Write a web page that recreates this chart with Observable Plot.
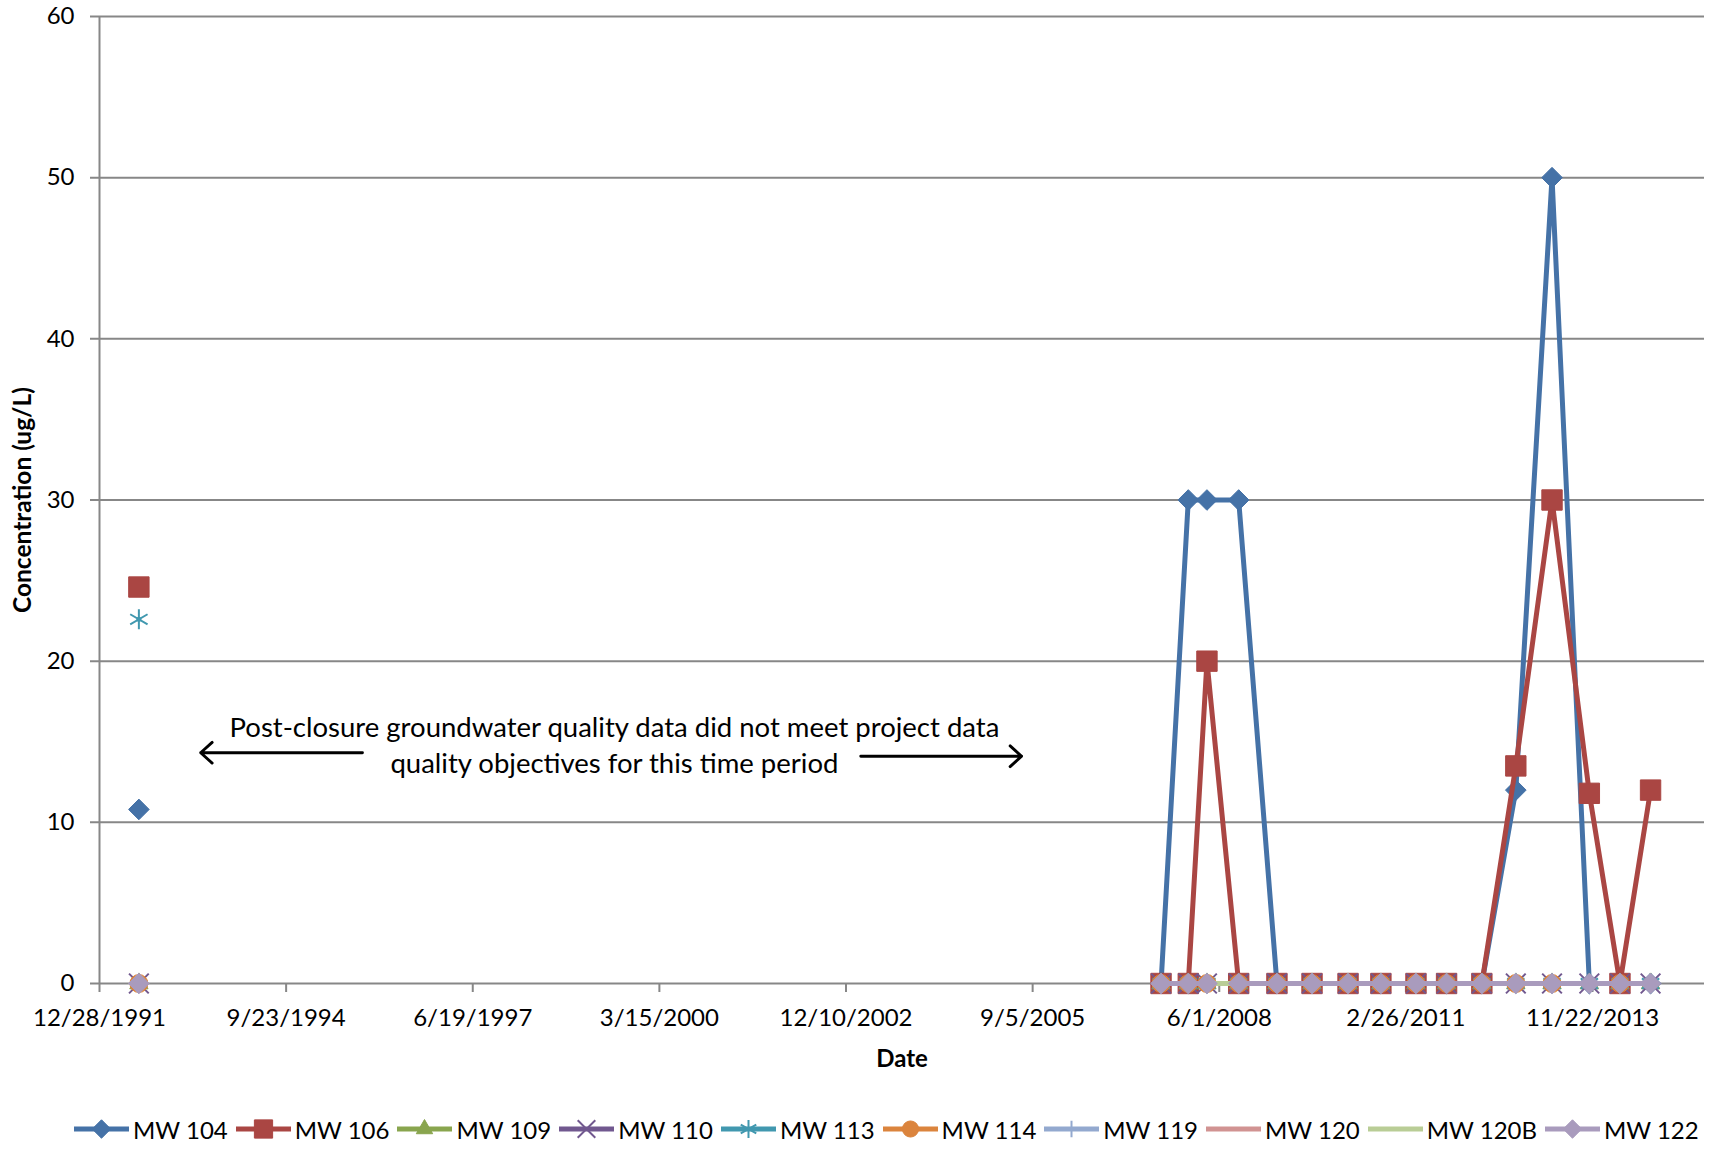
<!DOCTYPE html>
<html><head><meta charset="utf-8">
<script src="https://cdn.jsdelivr.net/npm/d3@7"></script>
<script src="https://cdn.jsdelivr.net/npm/@observablehq/plot@0.6"></script>
<style>
body{margin:0;background:#fff;font-family:Lato,sans-serif;}
#wrap{position:relative;width:1718px;height:1149px;overflow:hidden}
#legend{position:absolute;left:74px;top:1113px;height:32px;display:flex;align-items:center;font-size:24px;color:#000;white-space:nowrap;font-family:Lato,sans-serif}
.item{display:flex;align-items:center;margin-right:8px}
.item svg{margin-right:4px;display:block}
</style></head><body><div id="wrap"><div id="chart"></div><div id="legend"></div></div>
<script>
// ---- data ----
const sampleDates = ["1992-07-26","2007-07-25","2007-12-18","2008-03-27","2008-09-13","2009-04-06","2009-10-11","2010-04-22","2010-10-15","2011-04-21","2011-10-02","2012-04-08","2012-10-07","2013-04-19","2013-11-05","2014-04-18","2014-09-29"];
const seriesNames = ["MW 104","MW 106","MW 109","MW 110","MW 113","MW 114","MW 119","MW 120","MW 120B","MW 122"];
const mw104  = [10.8, 0, 30, 30, 30, 0, 0, 0, 0, 0, 0, 0, 12, 50, 0, 0, 0];
const mw106  = [24.6, 0, 0, 20, 0, 0, 0, 0, 0, 0, 0, 0, 13.5, 30, 11.8, 0, 12];
const mw109  = [0, 0, 0, 0, 0, 0, 0, 0, 0, 0, 0, 0, 0, 0, 0, 0, 0];
const mw110  = [0, 0, 0, 0, 0, 0, 0, 0, 0, 0, 0, 0, 0, 0, 0, 0, 0];
const mw113  = [22.6, 0, 0, 0, 0, 0, 0, 0, 0, 0, 0, 0, 0, 0, 0, 0, 0];
const mw114  = [0, 0, 0, 0, 0, 0, 0, 0, 0, 0, 0, 0, 0, 0, null, 0, null];
const mw119  = [null, 0, 0, 0, 0, 0, 0, 0, 0, 0, 0, 0, 0, 0, 0, 0, 0];
const mw120  = [null, 0, 0, 0, 0, 0, 0, 0, 0, 0, 0, 0, 0, 0, 0, 0, 0];
const mw120B = [null, 0, 0, 0, 0, 0, 0, 0, 0, 0, 0, 0, 0, 0, 0, 0, 0];
const mw122  = [0, 0, 0, 0, 0, 0, 0, 0, 0, 0, 0, 0, 0, 0, 0, 0, 0];
const seriesValues = [mw104, mw106, mw109, mw110, mw113, mw114, mw119, mw120, mw120B, mw122];
// sample index after which a series' line is not drawn (no reading between samples)
const lineGapAfter = {"MW 119": [3], "MW 120": [3], "MW 122": [3]};
const yTicks = [0, 10, 20, 30, 40, 50, 60];
const xTickLabels = ["12/28/1991","9/23/1994","6/19/1997","3/15/2000","12/10/2002","9/5/2005","6/1/2008","2/26/2011","11/22/2013"];
const xDomainLabels = ["12/28/1991","7/15/2015"];
const noteLines = ["Post-closure groundwater quality data did not meet project data","quality objectives for this time period"];
const notePosition = {date: "1999-07-18", value: 14.9};
const noteArrows = [
  {from: "1995-11-06", to: "1993-06-22", value: 14.32},
  {from: "2003-02-27", to: "2005-07-08", value: 14.1}
];

// ---- styles ----
const colors = ["#4572A7","#AA4643","#89A54E","#71588F","#4198AF","#DB843D","#93A9CF","#D19392","#B9CD96","#A99BBD"];
const markers = [
  {symbol:"diamond2", r:9.3, filled:true},
  {symbol:"square", r:11.5, filled:true},
  {symbol:"triangle", r:6.8, filled:true},
  {symbol:"times", r:9, filled:false},
  {symbol:"asterisk", r:9.5, filled:false},
  {symbol:"circle", r:9, filled:true},
  {symbol:"plus", r:6, filled:false},
  null, null,
  {symbol:"diamond2", r:9.3, filled:true}
];
const grid = "#878787";
const FONT = "Lato, sans-serif";

const parseISO = d3.utcParse("%Y-%m-%d");
const parseMDY = d3.utcParse("%m/%d/%Y");
const fmtMDY = d => `${d.getUTCMonth()+1}/${d.getUTCDate()}/${d.getUTCFullYear()}`;
const xTicks = xTickLabels.map(parseMDY);
const xDomain = xDomainLabels.map(parseMDY);

const marks = [];
marks.push(Plot.ruleY(yTicks, {stroke: grid, strokeWidth: 2, insetLeft: -9}));
marks.push(Plot.ruleX([xDomain[0]], {stroke: grid, strokeWidth: 2}));
marks.push(Plot.axisX(xTicks, {tickSize: 9, tickPadding: 16, stroke: grid, strokeWidth: 2, fill: "#000", tickFormat: fmtMDY, fontSize: 24, label: null}));
marks.push(Plot.axisY(yTicks, {tickSize: 0, tickPadding: 25, fill: "#000", fontSize: 24, label: null}));
marks.push(Plot.text(["Date"], {text: d => d, frameAnchor: "bottom", dy: 83, fontWeight: "bold", fontSize: 24, fill: "#000"}));
marks.push(Plot.text(["Concentration (ug/L)"], {text: d => d, frameAnchor: "left", textAnchor: "middle", dx: -76, rotate: -90, fontWeight: "bold", fontSize: 24.5, fill: "#000"}));

// annotation
marks.push(Plot.text([notePosition], {x: d => parseISO(d.date), y: "value", text: () => noteLines.join("\n"), lineHeight: 1.3, fontSize: 27.5, fill: "#000"}));
marks.push(Plot.arrow(noteArrows, {x1: d => parseISO(d.from), x2: d => parseISO(d.to), y1: "value", y2: "value", stroke: "#000", strokeWidth: 2.9, headLength: 8, headAngle: 84}));

seriesNames.forEach((name, i) => {
  const gaps = lineGapAfter[name] || [];
  const rows = sampleDates.map((ds, j) => {
    const date = parseISO(ds);
    let seg = date.getUTCFullYear() < 2000 ? 0 : 1;
    gaps.forEach(g => { if (j > g) seg += 10; });
    return {date, value: seriesValues[i][j], seg};
  });
  marks.push(Plot.line(rows, {x: "date", y: "value", z: "seg", stroke: colors[i], strokeWidth: 5, strokeLinejoin: "round"}));
  const m = markers[i];
  if (m) {
    const pts = rows.filter(d => d.value != null);
    marks.push(Plot.dot(pts, {x: "date", y: "value", symbol: m.symbol, r: m.r,
      fill: m.filled ? colors[i] : "none", stroke: colors[i], strokeWidth: m.filled ? 1 : 2}));
  }
});

const chart = Plot.plot({
  width: 1718, height: 1080,
  marginLeft: 99, marginRight: 14, marginTop: 16, marginBottom: 97,
  x: {type: "utc", domain: xDomain, axis: null},
  y: {domain: [0, 60], axis: null},
  style: {fontFamily: FONT, fontSize: "24px", background: "#fff", color: "#000"},
  marks
});
document.getElementById("chart").appendChild(chart);

// legend
const symTypes = {diamond2: d3.symbolDiamond2, square: d3.symbolSquare, triangle: d3.symbolTriangle, times: d3.symbolTimes, asterisk: d3.symbolAsterisk, circle: d3.symbolCircle, plus: d3.symbolPlus};
const legend = d3.select("#legend");
seriesNames.forEach((name, i) => {
  const item = legend.append("div").attr("class", "item");
  const svg = item.append("svg").attr("width", 55).attr("height", 26);
  svg.append("line").attr("x1", 0).attr("x2", 55).attr("y1", 13).attr("y2", 13)
    .attr("stroke", colors[i]).attr("stroke-width", 5);
  const m = markers[i];
  if (m) {
    const path = d3.symbol(symTypes[m.symbol], m.r * m.r * Math.PI * 0.8)();
    svg.append("path").attr("d", path).attr("transform", "translate(27.5,13)")
      .attr("fill", m.filled ? colors[i] : "none").attr("stroke", colors[i]).attr("stroke-width", m.filled ? 1 : 2);
  }
  item.append("span").text(name);
});
</script></body></html>
